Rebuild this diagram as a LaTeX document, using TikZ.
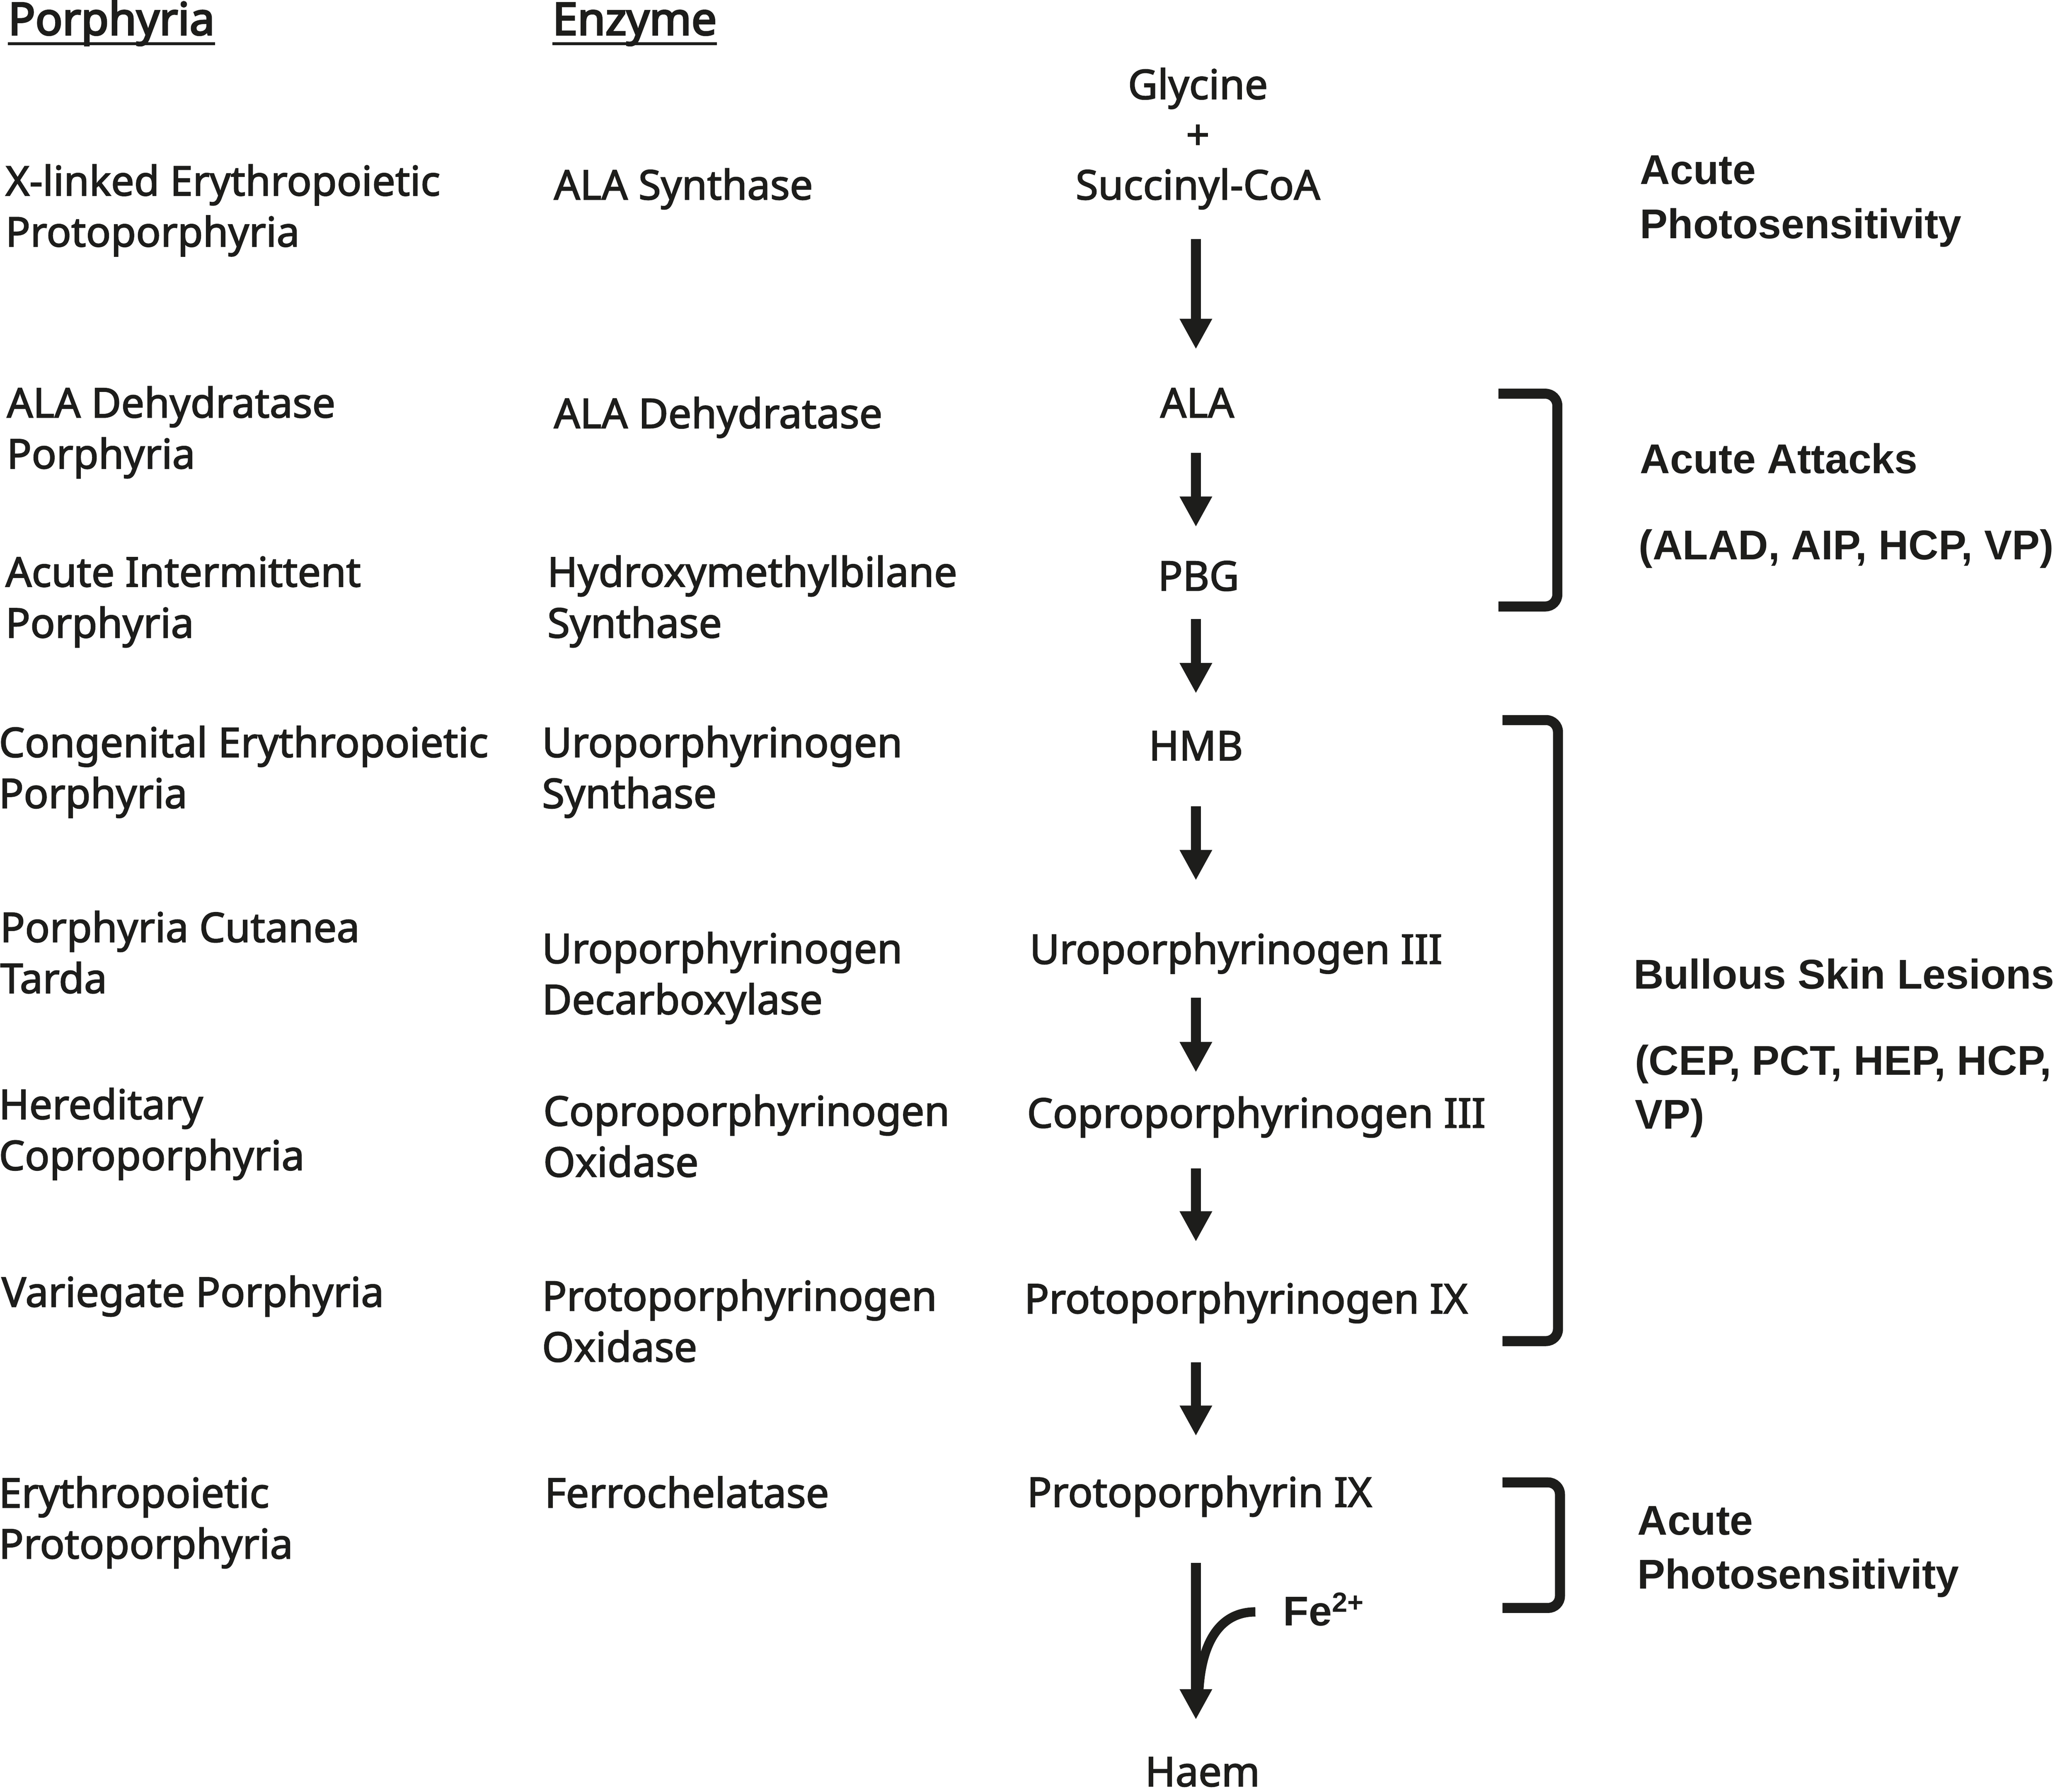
\documentclass[tikz,border=0pt]{standalone}
\usepackage{fontspec}
\setmainfont{Noto Sans}[FakeBold=2.2]
\newfontfamily\headfont{Noto Sans}[FakeBold=3.6]
\newfontfamily\labfont{Liberation Sans}
\usetikzlibrary{arrows.meta}
\definecolor{ink}{RGB}{29,29,27}
\newcommand\twol[2]{\vtop{\hbox{#1}\hbox{#2}}}
\begin{document}
\begin{tikzpicture}[x=1pt,y=1pt,
  txt/.style={font=\fontsize{31pt}{38.6pt}\selectfont, inner sep=0pt, text=ink, anchor=base west},
  head/.style={txt, font=\headfont\fontsize{34pt}{40pt}\selectfont},
  mid/.style={font=\fontsize{31pt}{38.6pt}\selectfont, inner sep=0pt, text=ink, text height=22pt, text depth=7pt, anchor=base},
  midl/.style={mid, anchor=base west},
  lab/.style={font=\labfont\bfseries\fontsize{31.5pt}{41pt}\selectfont, inner sep=0pt, text=ink, anchor=base west},
  flow/.style={line width=7.6pt, draw=ink, -{Triangle[length=23pt,width=23pt]}},
  brk/.style={line width=7.6pt, draw=ink, rounded corners=9pt},
  uline/.style={line width=2.2pt, draw=ink}]
\useasboundingbox (0,0) rectangle (1568,-1356.1);
\coordinate (ax) at (905,0);

% headers
\node[head] (hp) at (6,-26.4) {Porphyria};
\node[head] (he) at (418,-26.4) {Enzyme};
\draw[uline] ([yshift=-6.6pt]hp.base west) -- ([yshift=-6.6pt]hp.base east);
\draw[uline] ([yshift=-6.6pt]he.base west) -- ([yshift=-6.6pt]he.base east);

% porphyria column
\node[txt] (p1) at (4,-148) {\twol{X-linked Erythropoietic}{Protoporphyria}};
\node[txt] (p2) at (5,-316) {\twol{ALA Dehydratase}{Porphyria}};
\node[txt] (p3) at (4,-444) {\twol{Acute Intermittent}{Porphyria}};
\node[txt] (p4) at (-1,-573) {\twol{Congenital Erythropoietic}{Porphyria}};
\node[txt] (p5) at (0,-713) {\twol{Porphyria Cutanea}{Tarda}};
\node[txt] (p6) at (-1,-847) {\twol{Hereditary}{Coproporphyria}};
\node[txt] (p7) at (1,-989) {Variegate Porphyria};
\node[txt] (p8) at (-1,-1141) {\twol{Erythropoietic}{Protoporphyria}};

% enzyme column
\node[txt] (e1) at (419,-151) {ALA Synthase};
\node[txt] (e2) at (419,-324) {ALA Dehydratase};
\node[txt] (e3) at (414,-444) {\twol{Hydroxymethylbilane}{Synthase}};
\node[txt] (e4) at (410,-573) {\twol{Uroporphyrinogen}{Synthase}};
\node[txt] (e5) at (410,-729) {\twol{Uroporphyrinogen}{Decarboxylase}};
\node[txt] (e6) at (411,-852) {\twol{Coproporphyrinogen}{Oxidase}};
\node[txt] (e7) at (410,-992) {\twol{Protoporphyrinogen}{Oxidase}};
\node[txt] (e8) at (412,-1141) {Ferrochelatase};

% pathway
\node[txt, anchor=base] (gly) at (906.5,-75) {\vtop{\baselineskip=38pt\halign{\hfil#\hfil\cr Glycine\cr +\cr Succinyl-CoA\cr}}};
\node[mid] (ala) at (906,-316) {ALA};
\node[mid] (pbg) at (907,-447) {PBG};
\node[mid] (hmb) at (905,-575.5) {HMB};
\node[midl] (uro) at (779,-729.5) {Uroporphyrinogen III};
\node[midl] (cop) at (777,-853.5) {Coproporphyrinogen III};
\node[midl] (ppg) at (775,-994) {Protoporphyrinogen IX};
\node[midl] (ppn) at (777,-1140.5) {Protoporphyrin IX};
\node[mid, text depth=0pt] (haem) at (910,-1352) {Haem};

\draw[flow, shorten <=22.2pt, shorten >=29.5pt] (gly.south -| ax) -- (ala.north -| ax);
\draw[flow, shorten <=19.5pt, shorten >=26pt] (ala.south -| ax) -- (pbg.north -| ax);
\draw[flow, shorten <=14.4pt, shorten >=28.5pt] (pbg.south -| ax) -- (hmb.north -| ax);
\draw[flow, shorten <=27.5pt, shorten >=41pt] (hmb.south -| ax) -- (uro.north -| ax);
\draw[flow, shorten <=18.5pt, shorten >=19.7pt] (uro.south -| ax) -- (cop.north -| ax);
\draw[flow, shorten <=23.5pt, shorten >=32pt] (cop.south -| ax) -- (ppg.north -| ax);
\draw[flow, shorten <=30pt, shorten >=31.5pt] (ppg.south -| ax) -- (ppn.north -| ax);
\draw[flow, shorten <=35.2pt, shorten >=28.3pt] (ppn.south -| ax) -- (haem.north -| ax);

% Fe2+
\node[lab] (fe) at (971,-1230.5) {Fe\raisebox{10.5pt}{\fontsize{21pt}{21pt}\selectfont 2+}};
\coordinate (fe0) at (950,-1220);
\coordinate (fe1) at (907,-1285);
\draw[line width=7pt, draw=ink] (fe0) .. controls (922,-1220) and (908,-1245) .. (fe1);

% brackets
\draw[brk] (1134,-298) -- (1178.5,-298) -- (1178.5,-459) -- (1134,-459);
\draw[brk] (1137,-545) -- (1179,-545) -- (1179,-1015) -- (1137,-1015);
\draw[brk] (1137,-1122) -- (1180.5,-1122) -- (1180.5,-1217) -- (1137,-1217);

% right labels
\node[lab] (r1) at (1241,-139.5) {\twol{Acute}{Photosensitivity}};
\node[lab] (r2) at (1241,-358.3) {Acute Attacks};
\node[lab] (r3) at (1240,-423.4) {(ALAD, AIP, HCP, VP)};
\node[lab] (r4) at (1236,-748.5) {Bullous Skin Lesions};
\node[lab] (r5) at (1237,-813.5) {\twol{(CEP, PCT, HEP, HCP,}{VP)}};
\node[lab] (r6) at (1239,-1161.6) {\twol{Acute}{Photosensitivity}};
\end{tikzpicture}
\end{document}
